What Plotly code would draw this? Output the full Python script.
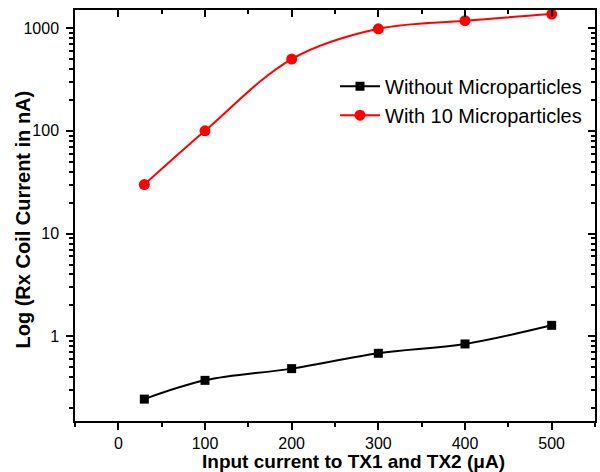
import math
import plotly.graph_objects as go

x_vals = [30, 100, 200, 300, 400, 500]
without_mp = [0.245, 0.373, 0.485, 0.684, 0.843, 1.28]
with_10_mp = [30, 100, 500, 985, 1180, 1370]
x_ticks = [0, 100, 200, 300, 400, 500]
y_ticks = [1, 10, 100, 1000]

FONT = "Liberation Sans, Arial, sans-serif"

y_minor = [m * 10 ** k for k in range(-1, 4) for m in range(2, 10)]

xr = [-50, 550]
yr = [math.log10(0.15), math.log10(1500)]

fig = go.Figure()
fig.add_trace(go.Scatter(
    x=x_vals, y=without_mp, name="Without Microparticles",
    mode="lines+markers", line=dict(color="black", width=2, shape="spline"),
    marker=dict(symbol="square", size=9, color="black")))
fig.add_trace(go.Scatter(
    x=x_vals, y=with_10_mp, name="With 10 Microparticles",
    mode="lines+markers", line=dict(color="#ff0000", width=2, shape="spline"),
    marker=dict(symbol="circle", size=11, color="#ff0000")))
# empty trace so that the mirrored top/right axes are drawn
fig.add_trace(go.Scatter(x=[None], y=[None], xaxis="x2", yaxis="y2",
                         showlegend=False, hoverinfo="skip"))

common = dict(showline=True, linecolor="black", linewidth=1.5, showgrid=False,
              zeroline=False, tickwidth=1.5, ticklen=7, tickcolor="black")

fig.update_layout(
    width=600, height=472,
    margin=dict(l=75, r=5, t=10, b=51),
    paper_bgcolor="white", plot_bgcolor="white",
    font=dict(family=FONT, color="black", size=16),
    showlegend=True,
    legend=dict(x=0.50, y=0.862, xanchor="left", yanchor="top",
                bgcolor="rgba(0,0,0,0)", font=dict(size=20, family=FONT),
                itemwidth=40, tracegroupgap=0),
    xaxis=dict(range=xr, tickvals=x_ticks, ticks="outside", tickfont=dict(size=16),
               ticklabelstandoff=0,
               minor=dict(ticks="outside", ticklen=4, tickwidth=1.5, dtick=50, tick0=0,
                          showgrid=False, tickcolor="black"),
               **common),
    yaxis=dict(type="log", range=yr, tickvals=y_ticks, ticktext=[str(v) for v in y_ticks],
               ticks="outside", tickfont=dict(size=16), ticklabelstandoff=4,
               minor=dict(ticks="outside", ticklen=4, tickwidth=1.5, tickvals=y_minor,
                          showgrid=False, tickcolor="black"),
               **common),
    xaxis2=dict(overlaying="x", side="top", range=xr, tickvals=x_ticks, showticklabels=False,
                ticks="inside",
                minor=dict(ticks="inside", ticklen=4, tickwidth=1.5, dtick=50, tick0=0,
                           showgrid=False, tickcolor="black"),
                **common),
    yaxis2=dict(overlaying="y", side="right", type="log", range=yr, tickvals=y_ticks,
                showticklabels=False, ticks="inside",
                minor=dict(ticks="inside", ticklen=4, tickwidth=1.5, tickvals=y_minor,
                           showgrid=False, tickcolor="black"),
                **common),
    annotations=[
        dict(text="<b>Input current to TX1 and TX2 (μA)</b>", xref="paper", yref="paper",
             x=0.5365, y=-0.0985, xanchor="center", yanchor="middle", showarrow=False,
             font=dict(size=19, family=FONT)),
        dict(text="<b>Log (Rx Coil Current in nA)</b>", xref="paper", yref="paper",
             x=-0.099, y=0.489, xanchor="center", yanchor="middle", showarrow=False,
             textangle=-90, font=dict(size=20, family=FONT)),
    ],
)

fig.write_html("out.html")
